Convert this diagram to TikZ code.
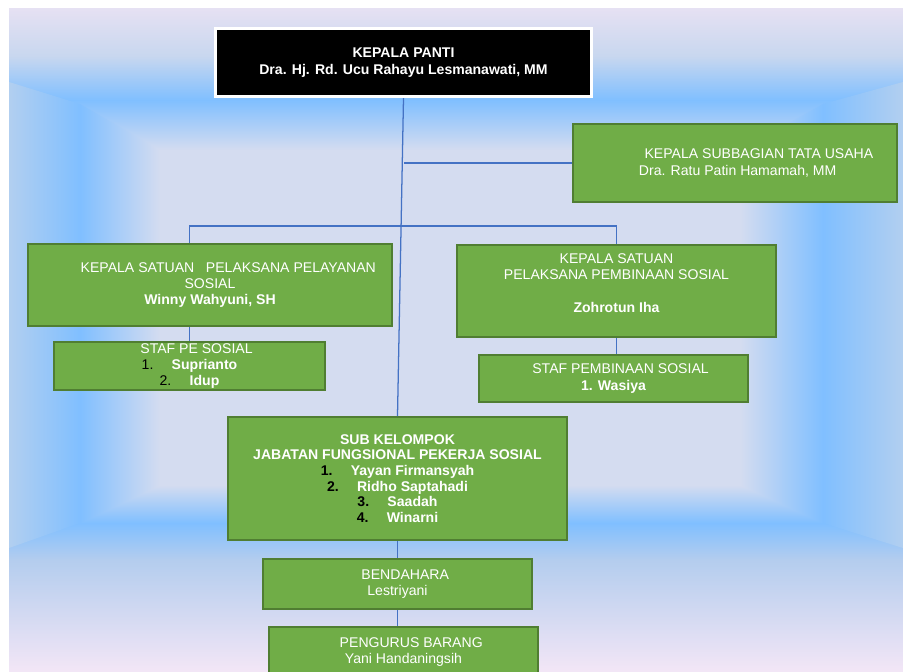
\documentclass[tikz,border=0pt]{standalone}
\usepackage{fontspec}
\setmainfont{Liberation Sans}
\usepackage{tikz}
\usetikzlibrary{positioning,shadows}

\definecolor{boxgreen}{HTML}{70AD47}
\definecolor{boxrim}{HTML}{507E32}
\definecolor{linkblue}{HTML}{4472C4}
\definecolor{bgtop}{HTML}{E6E1F3}
\definecolor{bgpale}{HTML}{C8D7EF}
\definecolor{bgblue}{HTML}{80BFFF}
\definecolor{bgcore}{HTML}{D4DCF0}
\definecolor{bgedge}{HTML}{B2CFF0}
\definecolor{bglow}{HTML}{B4CDEE}
\definecolor{bgbot}{HTML}{F3E6F6}

\newcommand{\nr}[1]{{\color{black}#1}\hspace{1.3em}}

\begin{document}
\begin{tikzpicture}[x=0.025cm, y=-0.025cm,
    boxsize/.style 2 args={minimum width=#1*0.025cm, minimum height=#2*0.025cm},
    unit/.style={draw=boxrim, fill=boxgreen, line width=1.4pt, text=white, align=center, inner sep=0pt, font=\fontsize{10}{11.6}\selectfont},
    head/.style={draw=white, fill=black, line width=2.2pt, text=white, align=center, inner sep=0pt, font=\fontsize{10}{12.2}\selectfont\bfseries, drop shadow={shadow xshift=1pt, shadow yshift=-1pt, opacity=0.25}},
    link/.style={linkblue, line width=0.9pt}]
    \useasboundingbox (0,0) rectangle (903,672);
    % Draw background
    \fill[white] (0,0) rectangle (903,672);
    \shade[top color=bgtop, bottom color=bgpale] (9,8) rectangle (903,56);
    \shade[top color=bgpale, bottom color=bgblue] (9,56) rectangle (903,100);
    \shade[top color=bgblue, bottom color=bgcore] (9,100) rectangle (903,150);
    \fill[bgcore] (9,150) rectangle (903,485);
    \shade[top color=bgcore, bottom color=bgblue] (9,485) rectangle (903,523);
    \shade[top color=bgblue, bottom color=bglow] (9,523) rectangle (903,560);
    \shade[top color=bglow, bottom color=bgbot] (9,560) rectangle (903,672);
    \begin{scope}
      \clip (9,82) -- (80,104) -- (160,150) -- (160,485) -- (80,523) -- (9,548) -- cycle;
      \shade[left color=bgedge, right color=bgblue] (9,50) rectangle (80,560);
      \shade[left color=bgblue, right color=bgcore] (80,50) rectangle (160,560);
    \end{scope}
    \begin{scope}
      \clip (903,82) -- (823,104) -- (740,150) -- (740,485) -- (823,523) -- (903,548) -- cycle;
      \shade[left color=bgcore, right color=bgblue] (740,40) rectangle (823,565);
      \shade[left color=bgblue, right color=bgedge] (823,40) rectangle (903,565);
    \end{scope}
    % Draw units
    \node[head, boxsize={376}{68}] (panti) at (403.5,62.5) {KEPALA PANTI\\Dra. Hj. Rd. Ucu Rahayu Lesmanawati, MM};
    \node[unit, boxsize={324}{78}, align=left] (tatausaha) at (735,163) {\hspace*{34pt}KEPALA SUBBAGIAN TATA USAHA\\\hspace*{30pt}Dra. Ratu Patin Hamamah, MM};
    \node[unit, boxsize={364}{82}] (pelayanan) at (210,285) {\hspace*{26pt}KEPALA SATUAN\ \ \ PELAKSANA PELAYANAN\\SOSIAL\\\textbf{Winny Wahyuni, SH}};
    \node[unit, boxsize={271}{48}] (stafpe) at (189.5,366) {\hspace*{10pt}STAF PE SOSIAL\\\nr{1.}\textbf{Suprianto}\\\nr{2.}\textbf{Idup}};
    \node[unit, boxsize={319}{92}] (pembinaan) at (616.5,291) {KEPALA SATUAN\\PELAKSANA PEMBINAAN SOSIAL\\[11.6pt]\textbf{Zohrotun Iha}\\\mbox{}};
    \node[unit, boxsize={269}{47}] (stafpemb) at (613.5,378.5) {\hspace*{10pt}STAF PEMBINAAN SOSIAL\\\textbf{1. Wasiya}};
    \node[unit, boxsize={339}{123}, font=\fontsize{10}{11.1}\selectfont\bfseries] (subkel) at (397.5,478.5) {SUB KELOMPOK\\JABATAN FUNGSIONAL PEKERJA SOSIAL\\\nr{1.}Yayan Firmansyah\\\nr{2.}Ridho Saptahadi\\\nr{3.}Saadah\\\nr{4.}Winarni};
    \node[unit, boxsize={269}{50}] (bendahara) at (397.5,584) {\hspace*{11pt}BENDAHARA\\Lestriyani};
    \node[unit, boxsize={269}{50}] (pengurus) at (403.5,652) {\hspace*{11pt}PENGURUS BARANG\\Yani Handaningsih};
    % Draw links
    \draw[link] (panti.south) -- (subkel.north);
    \draw[link] (tatausaha.west) -- (tatausaha.west -| panti.south);
    \draw[link] (stafpe.north |- pelayanan.north) -- ++(0,-17) -| (pembinaan.north);
    \draw[link] (stafpe.north |- pelayanan.south) -- (stafpe.north);
    \draw[link] (pembinaan.south) -- (pembinaan.south |- stafpemb.north);
    \draw[link] (subkel.south) -- (bendahara.north);
    \draw[link] (bendahara.south) -- (bendahara.south |- pengurus.north);
\end{tikzpicture}
\end{document}
